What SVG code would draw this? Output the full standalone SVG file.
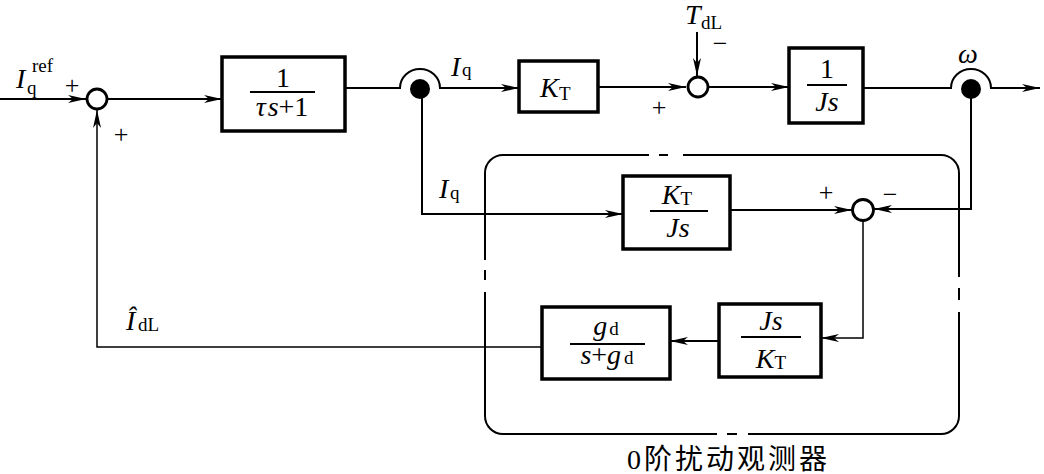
<svg xmlns="http://www.w3.org/2000/svg" width="1044" height="474" viewBox="0 0 1044 474">
<defs>
<marker id="arr" markerUnits="userSpaceOnUse" markerWidth="20" markerHeight="10" refX="18" refY="4" orient="auto">
<path d="M0,0 L18,4 L0,8 L5,4 z" fill="#000"/>
</marker>
<style>
.ln{fill:none;stroke:#000;stroke-width:2}
.thin{fill:none;stroke:#000;stroke-width:1.5}
.box{fill:#fff;stroke:#000;stroke-width:3.5}
.sum{fill:#fff;stroke:#000;stroke-width:2.8}
.dot{fill:#000;stroke:none}
.t{font-family:'Liberation Serif',serif;fill:#000}
.i{font-family:'Liberation Serif',serif;font-style:italic;fill:#000}
.pm{font-family:'Liberation Serif',serif;fill:#000;font-size:26px}
.fl{stroke:#000;stroke-width:2}
.frame{fill:none;stroke:#000;stroke-width:2}
</style>
</defs>
<rect width="1044" height="474" fill="#fff"/>

<g id="observer-frame">
<path class="frame" d="M485,260 L485,173 A18,18 0 0 1 503,155 L649,155 M659,155 L668,155 M683,155 L941,155 A18,18 0 0 1 959,173 L959,277 M959,288 L959,300 M959,312 L959,416 A18,18 0 0 1 941,434 L748,434 M737,434 L727,434 M717,434 L503,434 A18,18 0 0 1 485,416 L485,292 M485,280 L485,270"/>
<text x="727" y="469" font-size="28" text-anchor="middle" textLength="200" lengthAdjust="spacing" font-family="'Liberation Serif','Noto Sans CJK SC',serif" fill="#000">0阶扰动观测器</text>
</g>

<g id="connectors">
<path class="ln" d="M0,99 L86,99" marker-end="url(#arr)"/>
<path class="ln" d="M108,99 L222,99" marker-end="url(#arr)"/>
<path class="ln" d="M345,88 L400,88 A20,19 0 0 1 440,88 L519,88" marker-end="url(#arr)"/>
<path class="ln" d="M598,87 L686,87" marker-end="url(#arr)"/>
<path class="ln" d="M697,32 L697,76" marker-end="url(#arr)"/>
<path class="ln" d="M709,87 L789,87" marker-end="url(#arr)"/>
<path class="ln" d="M863,88 L951,88 A20,19 0 0 1 991,88 L1040,88" marker-end="url(#arr)"/>
<path class="ln" d="M422,96 L422,214 L623,214" marker-end="url(#arr)"/>
<path class="ln" d="M730,210 L852,210" marker-end="url(#arr)"/>
<path class="ln" d="M971,96 L971,209 L874,209" marker-end="url(#arr)"/>
<path class="thin" d="M863,221 L863,338 L821,338" marker-end="url(#arr)"/>
<path class="ln" d="M719,341 L670,341" marker-end="url(#arr)"/>
<path class="thin" d="M542,347 L97,347 L97,110" marker-end="url(#arr)"/>
</g>

<g id="sum1">
<circle class="sum" cx="97" cy="99" r="10"/>
<text class="pm" x="72" y="94" text-anchor="middle">+</text>
<text class="pm" x="121" y="143" text-anchor="middle">+</text>
</g>

<g id="input-label">
<text class="i" x="16" y="88" font-size="28">I</text>
<text class="t" x="27" y="94" font-size="19">q</text>
<text class="t" x="32" y="72" font-size="19">ref</text>
</g>

<g id="lag-block">
<rect class="box" x="222" y="57" width="123" height="74"/>
<text class="t" x="283" y="87" font-size="28" text-anchor="middle">1</text>
<line class="fl" x1="250" y1="92" x2="315" y2="92"/>
<text class="i" x="282" y="116" font-size="28" text-anchor="middle">τ<tspan dx="2">s</tspan><tspan font-style="normal">+1</tspan></text>
</g>

<g id="branch1">
<circle class="dot" cx="420" cy="89" r="10"/>
<text class="i" x="451" y="76" font-size="28">I</text>
<text class="t" x="462" y="76" font-size="19">q</text>
</g>

<g id="kt-block">
<rect class="box" x="519" y="61" width="79" height="51"/>
<text class="i" x="540" y="97" font-size="28">K</text>
<text class="t" x="559" y="100" font-size="19">T</text>
</g>

<g id="sum2">
<circle class="sum" cx="698" cy="87" r="10"/>
<text class="pm" x="659" y="116" text-anchor="middle">+</text>
<text class="pm" x="720" y="52" text-anchor="middle">−</text>
<text class="i" x="685" y="24" font-size="28">T</text>
<text class="t" x="701" y="29" font-size="19">dL</text>
</g>

<g id="inertia-block">
<rect class="box" x="789" y="48" width="74" height="75"/>
<text class="t" x="827" y="78" font-size="28" text-anchor="middle">1</text>
<line class="fl" x1="807" y1="85" x2="847" y2="85"/>
<text class="i" x="827" y="111" font-size="28" text-anchor="middle">Js</text>
</g>

<g id="branch2">
<circle class="dot" cx="971" cy="89" r="10"/>
<text class="i" x="968" y="63" font-size="28" text-anchor="middle">ω</text>
</g>

<g id="iq-label2">
<text class="i" x="439" y="198" font-size="28">I</text>
<text class="t" x="450" y="199" font-size="19">q</text>
</g>

<g id="model-block">
<rect class="box" x="623" y="176" width="107" height="73"/>
<text class="i" x="677" y="204" font-size="28" text-anchor="middle">K<tspan class="t" font-style="normal" font-size="19" dy="1">T</tspan></text>
<line class="fl" x1="650" y1="211" x2="708" y2="211"/>
<text class="i" x="678" y="237" font-size="28" text-anchor="middle">Js</text>
</g>

<g id="sum3">
<circle class="sum" cx="863" cy="210" r="10.5"/>
<text class="pm" x="826" y="201" text-anchor="middle">+</text>
<text class="pm" x="890" y="203" text-anchor="middle">−</text>
</g>

<g id="inverse-block">
<rect class="box" x="719" y="304" width="102" height="73"/>
<text class="i" x="771" y="330" font-size="28" text-anchor="middle">Js</text>
<line class="fl" x1="741" y1="337" x2="801" y2="337"/>
<text class="i" x="771" y="368" font-size="28" text-anchor="middle">K<tspan class="t" font-style="normal" font-size="19" dy="1">T</tspan></text>
</g>

<g id="filter-block">
<rect class="box" x="542" y="307" width="128" height="72"/>
<text class="i" x="606" y="335" font-size="28" text-anchor="middle">g<tspan class="t" font-style="normal" font-size="19" dx="2">d</tspan></text>
<line class="fl" x1="570" y1="344" x2="645" y2="344"/>
<text class="i" x="607" y="364" font-size="28" text-anchor="middle">s<tspan class="t" font-style="normal">+</tspan>g<tspan class="t" font-style="normal" font-size="19" dx="3">d</tspan></text>
</g>

<g id="estimate-label">
<text class="i" x="126" y="330" font-size="28">Î</text>
<text class="t" x="138" y="331" font-size="19">dL</text>
</g>
</svg>
